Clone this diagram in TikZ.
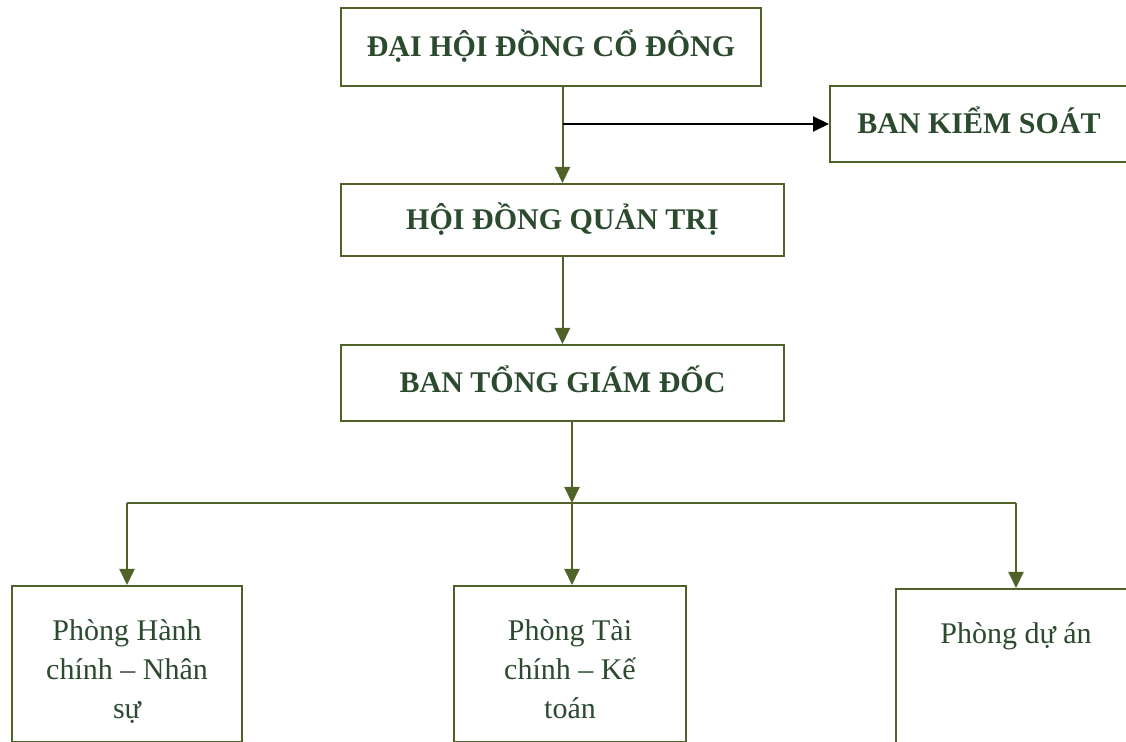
\documentclass[tikz,border=0pt]{standalone}
\usepackage{fontspec}
\setmainfont{Liberation Serif}
\usepackage{tikz}
\usetikzlibrary{arrows.meta}
\definecolor{boxline}{HTML}{4F6228}
\definecolor{boxtext}{HTML}{2B4A2E}
\tikzset{
BOX/.style ={draw=boxline,line width=1pt,inner sep=0pt,text=boxtext,font=\fontsize{15pt}{19.5pt}\selectfont},
TITLE/.style ={BOX,font=\bfseries\fontsize{15pt}{18pt}\selectfont,text height=11pt,text depth=1pt},
DEPT/.style ={BOX,align=flush center,anchor=north,text width=#1,inner ysep=17pt,text height=10.5pt,text depth=33.5pt},
DEPT/.default = 115pt,
LINK/.style ={draw=boxline,line width=1pt,-{Triangle[length=8pt,width=7.5pt]}},
BRANCH/.style ={draw=black,line width=1pt,-{Triangle[length=8pt,width=7.5pt]}},
}
\begin{document}
\begin{tikzpicture}[x=0.5pt,y=-0.5pt]
	\useasboundingbox (0,0) rectangle (1126,742);
	% boards
	\node[TITLE,minimum width=210pt,minimum height=39pt] (dhd) at (551,47) {ĐẠI HỘI ĐỒNG CỔ ĐÔNG};
	\node[TITLE,minimum width=149pt,minimum height=38pt] (bks) at (979,124) {BAN KIỂM SOÁT};
	\node[TITLE,minimum width=221.5pt,minimum height=36pt] (hdqt) at (562.5,220) {HỘI ĐỒNG QUẢN TRỊ};
	\node[TITLE,minimum width=221.5pt,minimum height=38pt] (btgd) at (562.5,383) {BAN TỔNG GIÁM ĐỐC};
	% departments
	\node[DEPT] (phc) at (127,585) {Phòng Hành\\ chính -- Nhân\\ sự};
	\node[DEPT=116pt] (ptc) at (570,585) {Phòng Tài\\ chính -- Kế\\ toán};
	\node[DEPT=120pt,text depth=45pt] (pda) at (1016,588) {Phòng dự án};
	% connectors
	\coordinate (split) at (hdqt.north |- bks.west);
	\coordinate (bus) at (572,503);
	\path[LINK] (hdqt.north |- dhd.south) -- (hdqt.north);
	\path[BRANCH] (split) -- (bks.west);
	\path[LINK] (hdqt.south) -- (btgd.north);
	\path[LINK] (bus |- btgd.south) -- (bus);
	\path[draw=boxline,line width=1pt] (phc.north |- bus) -- (bus -| pda.north);
	\path[LINK] (phc.north |- bus) -- (phc.north);
	\path[LINK] (bus) -- (bus |- ptc.north);
	\path[LINK] (pda.north |- bus) -- (pda.north);
\end{tikzpicture}
\end{document}
